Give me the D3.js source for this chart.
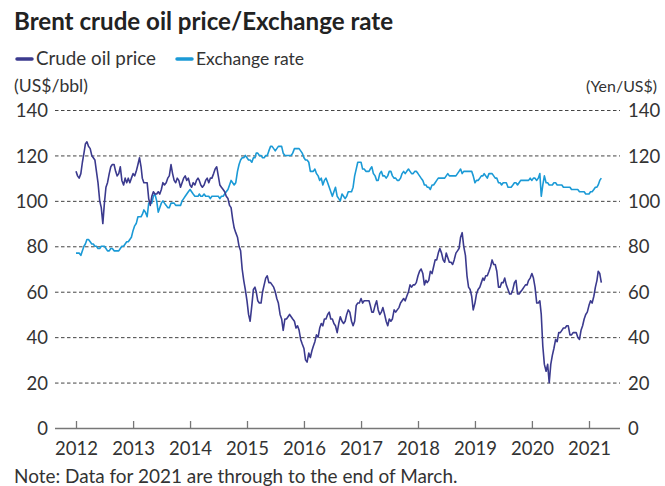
<!DOCTYPE html>
<html><head><meta charset="utf-8">
<script src="https://cdn.jsdelivr.net/npm/d3@7/dist/d3.min.js"></script>
<style>
html,body{margin:0;padding:0;background:#fff;}
text{font-family:Lato,"Noto Sans",sans-serif;fill:#333;}
</style></head>
<body>
<svg id="chart" width="665" height="486"></svg>
<script>
// ---- DATA ----
const titleText = "Brent crude oil price/Exchange rate";
const seriesNames = ["Crude oil price", "Exchange rate"];
const leftUnit = "(US$/bbl)";
const rightUnit = "(Yen/US$)";
const noteText = "Note: Data for 2021 are through to the end of March.";
const yTicks = [0, 20, 40, 60, 80, 100, 120, 140];
const yearTicks = [2012, 2013, 2014, 2015, 2016, 2017, 2018, 2019, 2020, 2021];
const firstMonth = "2012-01";          // readings on the 1st, 11th and 21st of each month
const readingDays = [1, 11, 21];

// Brent crude oil price (US$/bbl), three readings per month, Jan 2012 – Mar 2021
const oilPrice = [
  113,111,110, 112,117,121, 125,126,124, 123,120,119, 118,113,108, 100,97,90,
  99,106,108, 112,115,116, 116,113,111, 112,115,109, 107,110,108, 110,108,110,
  112,111,113, 116,119,115, 110,108,108, 108,101,98, 102,104,103, 103,104,103,
  105,108,107, 108,110,111, 116,112,109, 108,110,109, 106,108,110, 111,109,110,
  107,106,108, 107,109,110, 109,107,106, 107,109,110, 108,110,110, 112,114,115,
  111,107,106, 105,104,102, 101,98,97, 92,88,86, 84,80,78, 70,65,61,
  56,50,47, 54,61,62, 60,56,55, 55,60,63, 66,67,64, 64,63,62,
  60,57,55, 50,48,43, 48,48,49, 50,49,48, 47,44,45, 43,39,37,
  35,30,29, 33,31,34, 36,38,41, 40,44,46, 45,48,48, 50,51,48,
  48,46,45, 42,46,49, 47,46,47, 50,52,51, 47,45,47, 54,55,55,
  57,55,56, 56,56,56, 54,51,51, 54,56,52, 50,51,53, 50,47,45,
  48,47,48, 52,51,52, 53,55,56, 57,56,58, 60,63,62, 63,63,64,
  67,69,70, 68,63,65, 64,65,69, 68,71,74, 74,77,79, 77,74,73,
  77,75,73, 73,72,74, 77,78,79, 84,86,80, 76,67,62, 61,58,52,
  55,59,61, 62,64,66, 65,67,67, 69,71,74, 72,72,69, 62,62,64,
  64,66,63, 61,59,59, 61,64,65, 59,59,60, 61,62,63, 63,65,66,
  68,66,62, 55,55,56, 50,36,28, 25,28,20, 28,32,35, 39,38,42,
  42,43,44, 44,45,45, 41,41,42, 42,42,40, 39,43,45, 48,50,51,
  54,56,55, 58,62,65, 69,68,64
];

// Exchange rate (Yen/US$), three readings per month, Jan 2012 – Mar 2021
const exchangeRate = [
  77,77,77, 76,78,80, 81,83,83, 82,81,81, 80,80,79, 79,80,80,
  80,79,78, 78,79,79, 78,78,78, 78,79,80, 80,81,82, 82,83,84,
  87,89,90, 93,93,93, 94,96,95, 93,99,99, 99,102,103, 100,95,97,
  99,100,99, 98,97,97, 99,99,99, 98,98,98, 98,100,101, 102,103,104,
  105,104,103, 102,102,102, 103,102,102, 103,102,102, 102,101,102, 102,102,102,
  102,101,102, 102,103,104, 105,107,109, 108,107,108, 113,116,118, 119,119,120,
  119,118,118, 117,119,119, 121,121,120, 120,119,119, 120,120,122, 124,124,123,
  122,123,124, 124,124,121, 120,120,120, 120,120,121, 123,123,123, 123,122,121,
  119,118,118, 117,113,113, 113,114,112, 111,109,110, 107,109,110, 108,106,104,
  102,104,106, 102,101,100, 103,102,101, 102,104,104, 104,106,111, 114,117,117,
  117,114,114, 113,113,113, 114,115,112, 111,109,109, 112,113,111, 111,110,111,
  113,113,111, 110,110,109, 109,110,112, 113,112,113, 114,113,112, 112,113,113,
  112,111,110, 109,107,107, 106,106,105, 107,107,108, 109,110,110, 110,110,110,
  111,112,111, 111,111,111, 111,112,113, 114,112,113, 113,113,113, 113,113,111,
  108,109,109, 110,111,111, 112,111,110, 112,112,112, 111,110,110, 108,108,107,
  108,108,108, 106,106,106, 107,108,108, 107,108,109, 109,109,109, 109,109,110,
  109,110,110, 109,110,112, 102,107,111, 108,108,107, 107,107,108, 108,107,107,
  107,107,106, 106,106,106, 106,105,105, 105,105,105, 104,104,104, 104,103,103,
  103,104,104, 105,106,106, 107,109,110
];

// ---- CHART ----
const svg = d3.select("#chart");
const colors = ["#3b3a8e", "#1b9ad6"];
const left = 55, right = 620;

// scale a text's font size so its rendered width matches a target width
function fitWidth(sel, size, target) {
  sel.style("font-size", size + "px");
  const w = sel.node().getComputedTextLength();
  const s = size * target / w;
  sel.style("font-size", s.toFixed(2) + "px");
  return s;
}

const parseMonth = d3.timeParse("%Y-%m");
const m0 = parseMonth(firstMonth);
function dateAt(i) {
  const m = d3.timeMonth.offset(m0, Math.floor(i / readingDays.length));
  return new Date(m.getFullYear(), m.getMonth(), readingDays[i % readingDays.length]);
}
const oilData = oilPrice.map((v, i) => ({date: dateAt(i), value: v}));
const fxData = exchangeRate.map((v, i) => ({date: dateAt(i), value: v}));

const x = d3.scaleTime()
  .domain([new Date(2012, 0, 1), new Date(2021, 0, 1)])
  .range([76, 589]);
const yL = d3.scaleLinear().domain([0, 140]).range([428, 110]);
const yR = d3.scaleLinear().domain([0, 140]).range([428, 110]);

// title
const title = svg.append("text").attr("x", 14).attr("y", 30)
  .style("font-weight", "bold").style("fill", "#222").text(titleText);
fitWidth(title, 21, 379);

// legend
const legendX = [17, 177];
const legendW = [120, 108];
seriesNames.forEach((n, i) => {
  svg.append("line").attr("x1", legendX[i]).attr("x2", legendX[i] + 15)
    .attr("y1", 59).attr("y2", 59)
    .attr("stroke", colors[i]).attr("stroke-width", 3.5).attr("stroke-linecap", "round");
  const t = svg.append("text").attr("x", legendX[i] + 19).attr("y", 65).text(n);
  fitWidth(t, 15.5, legendW[i]);
});

// units
const ul = svg.append("text").attr("x", 14).attr("y", 92).text(leftUnit);
fitWidth(ul, 15, 74);
const ur = svg.append("text").attr("x", 657).attr("y", 92).attr("text-anchor", "end").text(rightUnit);
fitWidth(ur, 15, 71);

// gridlines
svg.append("g").selectAll("line").data(yTicks.filter(d => d > 0)).join("line")
  .attr("x1", left).attr("x2", right)
  .attr("y1", d => yL(d) + 0.5).attr("y2", d => yL(d) + 0.5)
  .attr("stroke", "#444").attr("stroke-width", 1).attr("stroke-dasharray", "3.5,2.5");

// left axis labels
const axL = svg.append("g").attr("transform", `translate(${left},0)`)
  .call(d3.axisLeft(yL).tickValues(yTicks).tickSize(0).tickPadding(7));
axL.select(".domain").remove();
axL.selectAll("text").style("font-size", "18.5px").attr("fill", "#333").attr("dy", "0.36em");

// right axis labels
const axR = svg.append("g").attr("transform", `translate(${right},0)`)
  .call(d3.axisRight(yR).tickValues(yTicks).tickSize(0).tickPadding(8));
axR.select(".domain").remove();
axR.selectAll("text").style("font-size", "18.5px").attr("fill", "#333").attr("dy", "0.36em");

// x axis
svg.append("line").attr("x1", left).attr("x2", right)
  .attr("y1", yL(0) + 0.5).attr("y2", yL(0) + 0.5)
  .attr("stroke", "#777").attr("stroke-width", 1.3);
const axX = svg.append("g").attr("transform", `translate(0,${yL(0)})`)
  .call(d3.axisBottom(x).tickValues(yearTicks.map(y => new Date(y, 0, 1)))
    .tickFormat(d3.timeFormat("%Y")).tickSize(-7).tickPadding(14));
axX.select(".domain").remove();
axX.selectAll(".tick line").attr("stroke", "#777").attr("stroke-width", 1.3);
axX.selectAll("text").style("font-size", "18.5px").attr("fill", "#333");

// lines
const lineL = d3.line().x(d => x(d.date)).y(d => yL(d.value));
const lineR = d3.line().x(d => x(d.date)).y(d => yR(d.value));
svg.append("path").datum(fxData).attr("d", lineR)
  .attr("fill", "none").attr("stroke", colors[1]).attr("stroke-width", 1.6).attr("stroke-linejoin", "round");
svg.append("path").datum(oilData).attr("d", lineL)
  .attr("fill", "none").attr("stroke", colors[0]).attr("stroke-width", 1.6).attr("stroke-linejoin", "round");

// note
const note = svg.append("text").attr("x", 14).attr("y", 483).text(noteText);
fitWidth(note, 17, 444);
</script>
</body></html>
